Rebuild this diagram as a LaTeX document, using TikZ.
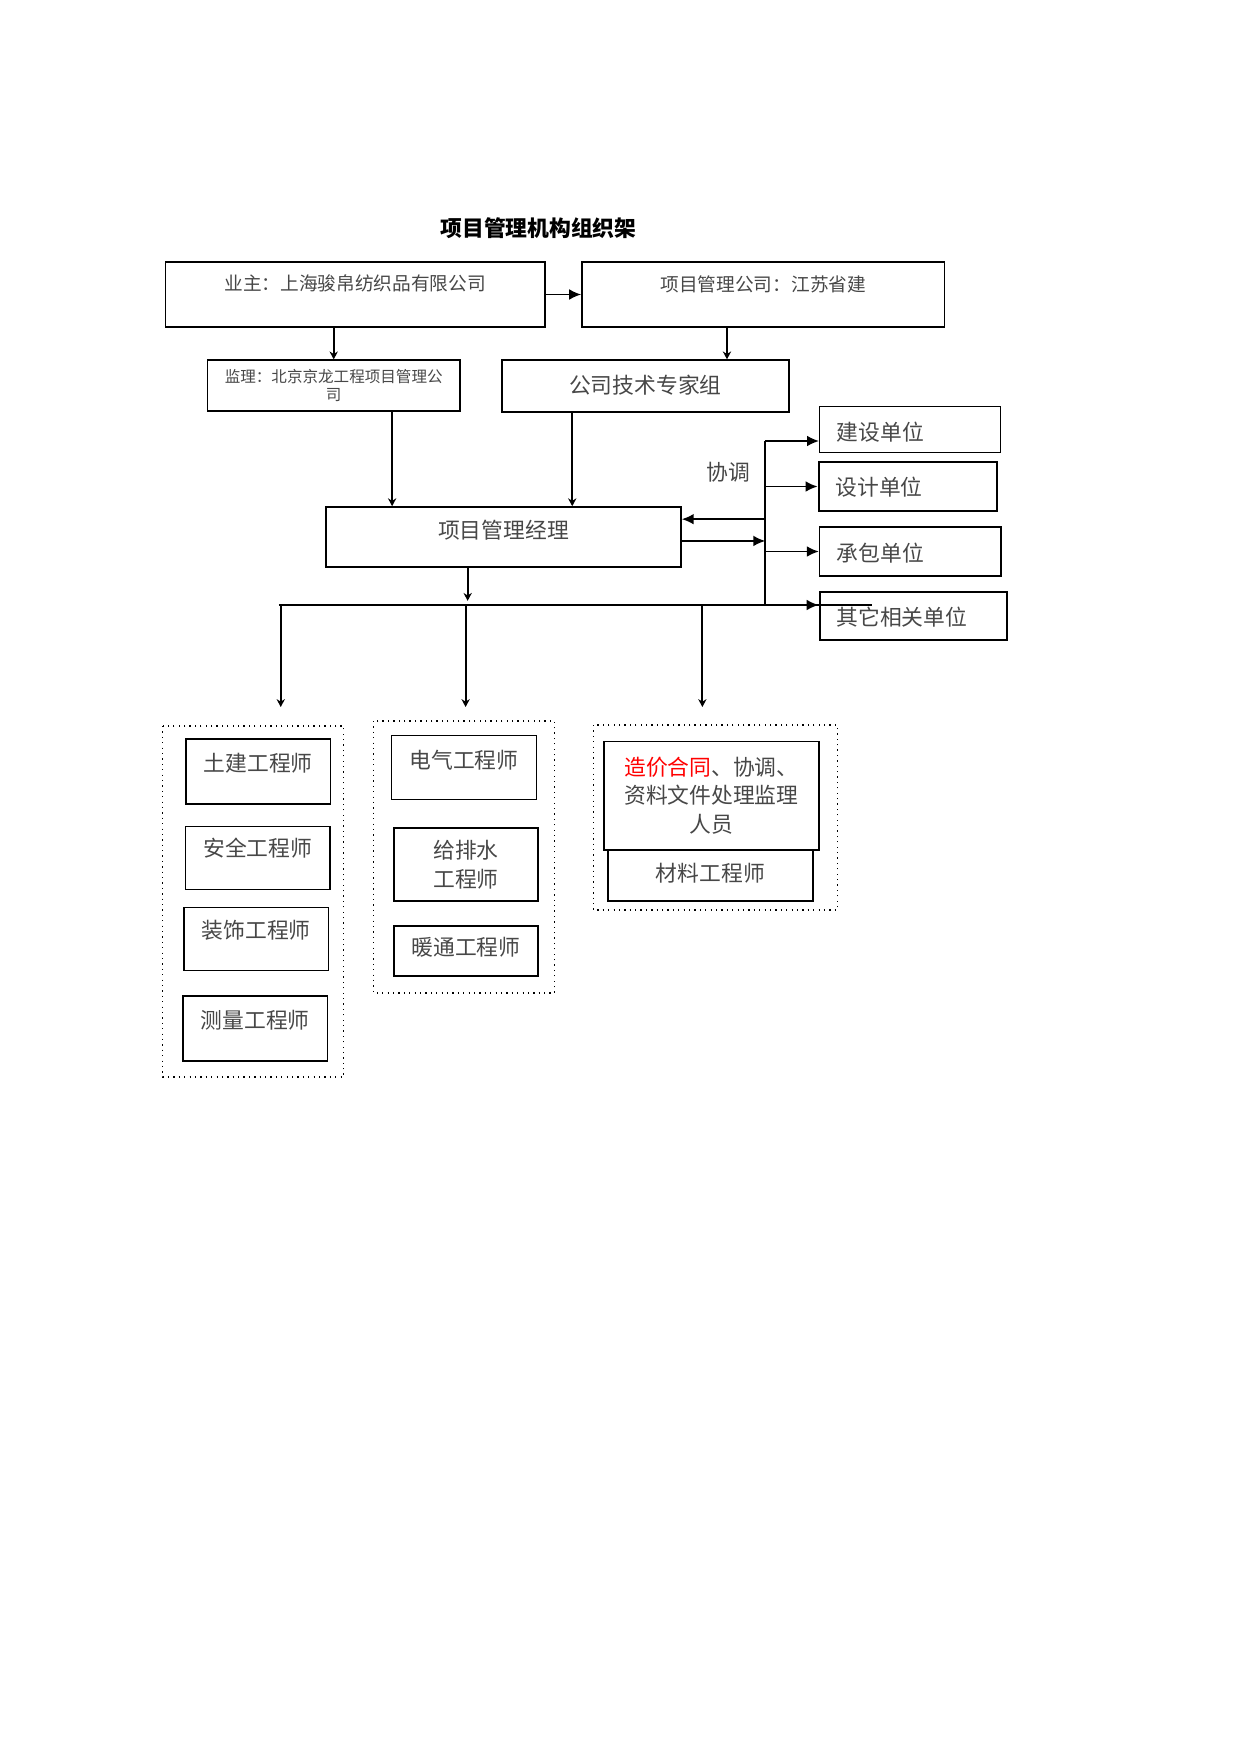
\documentclass[tikz,border=0pt]{standalone}
\usepackage{fontspec}
\setmainfont{Noto Sans CJK SC}
\usetikzlibrary{arrows.meta}

\begin{document}
\begin{tikzpicture}
[x=0.016922cm,y=-0.016933cm,line cap=butt,
% Styles
connector/.style={line width=0.9pt},
arrow/.style={connector,-{Latex[length=5.8pt,width=5.2pt]}},
drop arrow/.style={connector,-{Stealth[length=3.8pt,width=4pt]}},
box/.style={draw,line width=0.9pt,inner sep=0pt,text=textcolor,font=\fontsize{10.5}{13}\selectfont},
fine box/.style={box,line width=0.55pt},
unit box/.style={align=left,inner xsep=8.2pt,text width=#1},
engineer/.style={minimum width=69.6pt},
group/.style={draw,dotted,line width=0.6pt}]
% Colors
\colorlet{textcolor}{black!72}
\colorlet{notecolor}{red}
% The page
\useasboundingbox (0,0) rectangle (1241,1754);
\node[font=\fontsize{10.5}{12}\selectfont\bfseries] (title) at (539,228) {项目管理机构组织架};
% Top level
\node[box,font=\fontsize{9}{11}\selectfont,minimum width=182.8pt,text height=13.5pt,text depth=17.7pt]
  (owner) at (355.5,294.5) {业主：上海骏帛纺织品有限公司};
\node[box,font=\fontsize{9}{11}\selectfont,minimum width=174.6pt,text height=14pt,text depth=17.2pt]
  (pmco) at (764,294.5) {项目管理公司：江苏省建};
\node[box,line width=0.7pt,font=\fontsize{7.5}{8.6}\selectfont,align=center,minimum width=121.9pt,minimum height=24.5pt]
  (sup) at (334,385.5) {监理：北京京龙工程项目管理公\\司};
\node[box,minimum width=138.2pt,text height=16pt,text depth=8.8pt]
  (expert) at (646,386) {公司技术专家组};
\node[box,minimum width=170.8pt,text height=15pt,text depth=13.8pt]
  (mgr) at (504,537) {项目管理经理};
\node[text=textcolor,font=\fontsize{10.5}{13}\selectfont] (coord) at (729,472) {协调};
% Related units
\node[fine box,unit box=70.9pt,text height=16.5pt,text depth=6pt] (jianshe) at (911,429.5) {建设单位};
\node[box,unit box=69.5pt,text height=16pt,text depth=7.5pt] (sheji) at (908.5,486.5) {设计单位};
\node[box,line width=0.7pt,unit box=70.9pt,text height=16.5pt,text depth=7pt] (chengbao) at (911,551.5) {承包单位};
\node[box,unit box=73.8pt,text height=16pt,text depth=7pt] (qita) at (914,616) {其它相关单位};
% Engineers
\draw[group] (163,726) rectangle (344,1077);
\draw[group] (374,721) rectangle (555,993);
\draw[group] (594,725) rectangle (838,910);
\node[box,engineer,text height=15.5pt,text depth=15.7pt] (tujian) at (258.5,771.5) {土建工程师};
\node[fine box,engineer,text height=14.6pt,text depth=16.1pt] (anquan) at (258,858) {安全工程师};
\node[fine box,engineer,text height=15pt,text depth=15.7pt] (zhuangshi) at (256.5,939) {装饰工程师};
\node[box,engineer,text height=15.5pt,text depth=15.7pt] (celiang) at (255.5,1028.5) {测量工程师};
\node[fine box,engineer,text height=16pt,text depth=15.2pt] (dianqi) at (464.5,767.5) {电气工程师};
\node[box,engineer,align=center,minimum height=35pt,font=\fontsize{10.5}{13.9}\selectfont]
  (jipaishui) at (466.5,864.5) {给排水\\工程师};
\node[box,engineer,text height=14pt,text depth=10pt] (nuantong) at (466.5,951) {暖通工程师};
\node[box,minimum width=98.8pt,text height=15pt,text depth=9.5pt] (cailiao) at (711,875.5) {材料工程师};
\node[box,line width=0.7pt,align=center,minimum width=103.6pt,minimum height=52.3pt,
  font=\fontsize{10.5}{13.7}\selectfont]
  (zaojia) at (712,795.5) {\textcolor{notecolor}{造价合同}、协调、\\资料文件处理监理\\人员};
% Connectors
\draw[arrow] (owner.east) -- (pmco.west);
\draw[drop arrow] (owner.south -| sup.north) -- (sup.north);
\coordinate (expert in) at ([xshift=39.3pt]expert.north);
\draw[drop arrow] (expert in |- pmco.south) -- (expert in);
\coordinate (mgr in a) at ([xshift=-53.7pt]mgr.north);
\coordinate (mgr in b) at ([xshift=33.1pt]mgr.north);
\draw[drop arrow] (mgr in a |- sup.south) -- (mgr in a);
\draw[drop arrow] (mgr in b |- expert.south) -- (mgr in b);
% coordination bus
\coordinate (bus top) at (766,441);
\coordinate (bus bottom) at (766,605);
\draw[connector] (bus top) -- (bus bottom);
\draw[arrow] (bus top) -- (bus top -| jianshe.west);
\draw[arrow] (bus top |- sheji.west) -- (sheji.west);
\draw[arrow] (bus top |- chengbao.west) -- (chengbao.west);
\draw[arrow] (bus bottom) -- (bus bottom -| qita.west);
\coordinate (mgr back) at ([yshift=8.6pt]mgr.east);
\coordinate (mgr out) at ([yshift=-1.9pt]mgr.east);
\draw[arrow] (bus top |- mgr back) -- (mgr back);
\draw[arrow] (mgr out) -- (bus top |- mgr out);
% distribution bus
\coordinate (hbus west) at (279,605);
\coordinate (hbus east) at (873,605);
\draw[connector] (hbus west) -- (hbus east);
\coordinate (mgr down) at ([xshift=-17.3pt]mgr.south);
\draw[drop arrow] (mgr down) -- ++(0,33);
\foreach \x in {281,466,703}
  \draw[drop arrow] (hbus west -| \x,0) -- ++(0,102);
\end{tikzpicture}
\end{document}
